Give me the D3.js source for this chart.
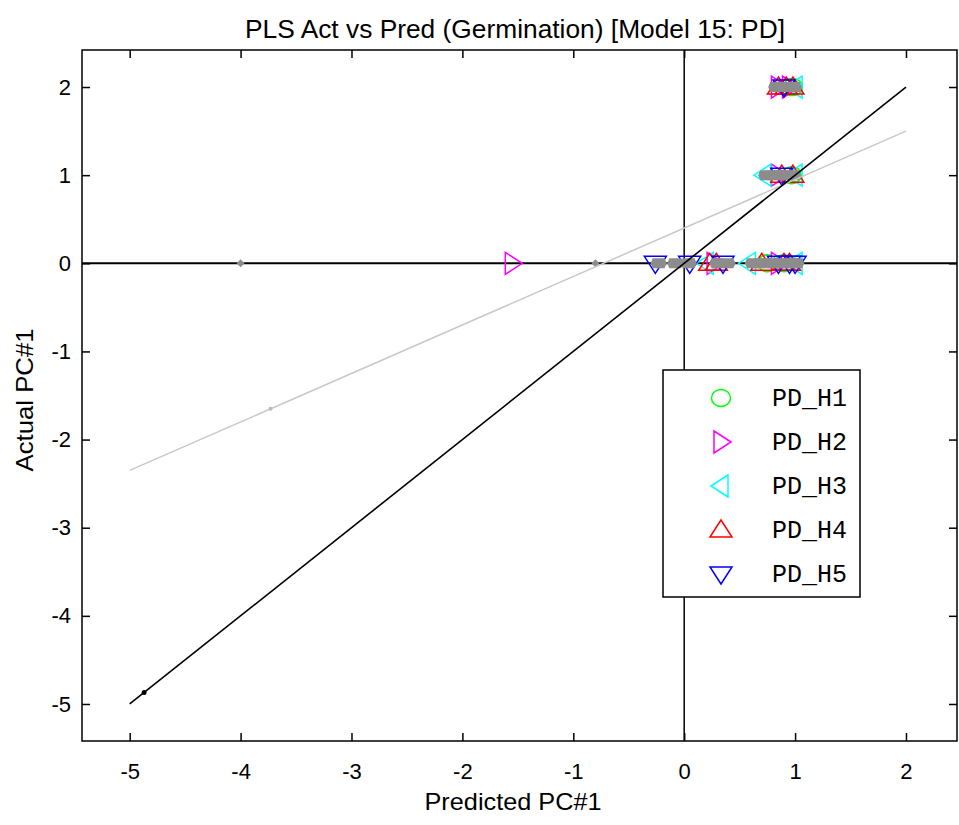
<!DOCTYPE html>
<html>
<head>
<meta charset="utf-8">
<script src="https://cdn.jsdelivr.net/npm/d3@7"></script>
<style>
  body { margin: 0; background: #fff; }
  svg text { font-family: "Liberation Sans", Arial, sans-serif; fill: #000; }
  .legend-text { font-family: "Liberation Mono", "DejaVu Sans Mono", monospace; }
</style>
</head>
<body>
<svg id="chart" width="959" height="825"></svg>
<script>
const title = "PLS Act vs Pred (Germination) [Model 15: PD]";
const xLabel = "Predicted PC#1";
const yLabel = "Actual PC#1";
const xTicks = [-5, -4, -3, -2, -1, 0, 1, 2];
const yTicks = [-5, -4, -3, -2, -1, 0, 1, 2];

// [predicted, actual]
const seriesNames = ["PD_H1", "PD_H2", "PD_H3", "PD_H4", "PD_H5"];
const seriesColors = ["#00ff00", "#ff00ff", "#00ffff", "#ff0000", "#0000ff"];
const seriesShapes = ["circle", "right", "left", "up", "down"];
const pointsH1 = [[0.95, 2], [0.98, 2], [0.97, 1], [0.75, 0], [0.9, 0]];
const pointsH2 = [[-1.55, 0], [0.27, 0], [0.85, 0], [0.85, 1], [0.85, 2], [0.95, 2]];
const pointsH3 = [[0.2, 0], [0.58, 0], [1.0, 0], [0.72, 1], [1.0, 1], [1.0, 2]];
const pointsH4 = [[0.23, 0], [0.29, 0], [0.7, 0], [0.9, 0], [0.95, 0], [0.88, 1], [0.98, 1], [0.85, 2], [0.92, 2], [0.98, 2]];
const pointsH5 = [[-0.26, 0], [0.05, 0], [0.35, 0], [0.85, 0], [0.95, 0], [1.0, 0], [0.88, 1], [0.9, 2]];
const seriesPoints = [pointsH1, pointsH2, pointsH3, pointsH4, pointsH5];

const grayPoints = [[-4, 0], [-0.8, 0], [-0.23, 0], [-0.08, 0], [0.04, 0], [0.3, 0], [0.39, 0],
  [0.62, 0], [0.68, 0], [0.74, 0], [0.8, 0], [0.86, 0], [0.92, 0], [0.97, 0], [1.01, 0],
  [0.74, 1], [0.8, 1], [0.86, 1], [0.92, 1], [0.98, 1],
  [0.83, 2], [0.89, 2], [0.95, 2], [0.99, 2]];

const idealLine = [[-5, -5], [2, 2]];
const fitLine = [[-5, -2.35], [2, 1.5]];
const idealDot = [-4.87, -4.87];
const fitDot = [-3.73, -1.65];

const margin = {top: 50, right: 2, bottom: 84, left: 82};
const width = 959 - margin.left - margin.right;
const height = 825 - margin.top - margin.bottom;

const svg = d3.select("#chart");
const g = svg.append("g").attr("transform", `translate(${margin.left},${margin.top})`);

const x = d3.scaleLinear().domain([-5.43, 2.46]).range([0, width]);
const y = d3.scaleLinear().domain([-5.42, 2.42]).range([height, 0]);

function shapePath(shape) {
  switch (shape) {
    case "up": return "M0,-10L11,7L-11,7Z";
    case "down": return "M0,10L11,-7L-11,-7Z";
    case "right": return "M10,0L-7,-11L-7,11Z";
    case "left": return "M-10,0L7,-11L7,11Z";
    default: return null;
  }
}

function drawMarker(sel, shape, color) {
  if (shape === "circle") {
    sel.append("ellipse").attr("rx", 9.5).attr("ry", 8.5)
      .attr("fill", "none").attr("stroke", color).attr("stroke-width", 1.5);
  } else {
    sel.append("path").attr("d", shapePath(shape))
      .attr("fill", "none").attr("stroke", color).attr("stroke-width", 1.5);
  }
}

// zero lines
g.append("line").attr("x1", 0).attr("x2", width).attr("y1", y(0)).attr("y2", y(0))
  .attr("stroke", "#000").attr("stroke-width", 2);
g.append("line").attr("x1", x(0)).attr("x2", x(0)).attr("y1", 0).attr("y2", height)
  .attr("stroke", "#000").attr("stroke-width", 1.5);

// series markers
seriesPoints.forEach((pts, i) => {
  g.append("g").selectAll("g")
    .data(pts)
    .enter()
    .append("g")
    .attr("transform", d => `translate(${x(d[0])},${y(d[1])})`)
    .each(function() { drawMarker(d3.select(this), seriesShapes[i], seriesColors[i]); });
});

// gray predicted points
g.append("g").selectAll("path")
  .data(grayPoints)
  .enter()
  .append("path")
  .attr("transform", d => `translate(${x(d[0])},${y(d[1])})`)
  .attr("d", d => d[0] < -0.5 ? "M0,-4L4,0L0,4L-4,0Z" : "M-6,-5L6,-5L8,0L6,5L-6,5L-8,0Z")
  .attr("fill", "#8c8c8c");

// fit and ideal lines
const line = d3.line().x(d => x(d[0])).y(d => y(d[1]));
g.append("path").attr("d", line(fitLine)).attr("stroke", "#c8c8c8").attr("stroke-width", 1.5).attr("fill", "none");
g.append("path").attr("d", line(idealLine)).attr("stroke", "#000").attr("stroke-width", 1.6).attr("fill", "none");
g.append("circle").attr("cx", x(idealDot[0])).attr("cy", y(idealDot[1])).attr("r", 2.5).attr("fill", "#000");
g.append("circle").attr("cx", x(fitDot[0])).attr("cy", y(fitDot[1])).attr("r", 2).attr("fill", "#bbb");

// axes
const tickLen = 8;
g.append("rect").attr("width", width).attr("height", height)
  .attr("fill", "none").attr("stroke", "#000").attr("stroke-width", 1.5);

const fmt = d => String(d);
g.append("g").attr("transform", `translate(0,${height})`)
  .call(d3.axisBottom(x).tickValues(xTicks).tickSize(-tickLen).tickPadding(22).tickFormat(fmt))
  .call(a => a.select(".domain").remove());
g.append("g")
  .call(d3.axisTop(x).tickValues(xTicks).tickSize(-tickLen).tickFormat(""))
  .call(a => a.select(".domain").remove());
g.append("g")
  .call(d3.axisLeft(y).tickValues(yTicks).tickSize(-tickLen).tickPadding(11).tickFormat(fmt))
  .call(a => a.select(".domain").remove());
g.append("g").attr("transform", `translate(${width},0)`)
  .call(d3.axisRight(y).tickValues(yTicks).tickSize(-tickLen).tickFormat(""))
  .call(a => a.select(".domain").remove());

g.selectAll(".tick line").attr("stroke", "#000").attr("stroke-width", 1.5);
g.selectAll(".tick text").style("font-size", "22px").style("font-family", null);

// titles
svg.append("text").attr("x", 515).attr("y", 38)
  .attr("text-anchor", "middle").style("font-size", "25px")
  .attr("textLength", 540).attr("lengthAdjust", "spacingAndGlyphs").text(title);
svg.append("text").attr("x", 513).attr("y", 810)
  .attr("text-anchor", "middle").style("font-size", "24px")
  .attr("textLength", 177).attr("lengthAdjust", "spacingAndGlyphs").text(xLabel);
svg.append("text").attr("transform", `translate(33,400) rotate(-90)`)
  .attr("text-anchor", "middle").style("font-size", "24px")
  .attr("textLength", 143).attr("lengthAdjust", "spacingAndGlyphs").text(yLabel);

// legend
const legend = svg.append("g").attr("transform", "translate(663,370)");
legend.append("rect").attr("width", 197).attr("height", 227)
  .attr("fill", "#fff").attr("stroke", "#000").attr("stroke-width", 1.5);
const rows = legend.selectAll("g.row")
  .data(seriesNames)
  .enter()
  .append("g")
  .attr("class", "row")
  .attr("transform", (d, i) => `translate(0,${28 + i * 44})`);
rows.each(function(d, i) { drawMarker(d3.select(this).append("g").attr("transform", "translate(58,0)"), seriesShapes[i], seriesColors[i]); });
rows.append("text").attr("class", "legend-text").attr("x", 109).attr("y", 8)
  .style("font-size", "25px").text(d => d);
</script>
</body>
</html>
